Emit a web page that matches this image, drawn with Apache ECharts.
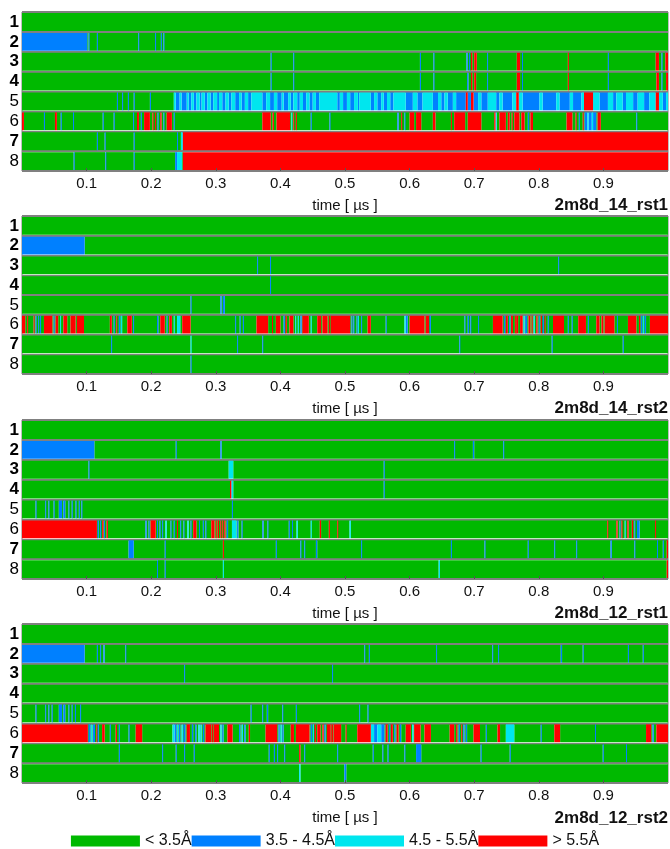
<!DOCTYPE html>
<html>
<head>
<meta charset="utf-8">
<script src="https://cdn.jsdelivr.net/npm/echarts@6/dist/echarts.min.js"></script>
<style>
html,body{margin:0;padding:0;background:#fff;}
#chart{width:670px;height:849px;}
</style>
</head>
<body>
<div id="chart"></div>
<script>
// ---------- data ----------
const categories = ['< 3.5Å', '3.5 - 4.5Å', '4.5 - 5.5Å', '> 5.5Å'];
const categoryColors = ['#00B900', '#0080FF', '#00E6EE', '#FF0000'];
const rowLabels = ['1', '2', '3', '4', '5', '6', '7', '8'];
const boldRows = ['1', '2', '3', '4', '7'];
const panelTitles = ['2m8d_14_rst1', '2m8d_14_rst2', '2m8d_12_rst1', '2m8d_12_rst2'];
const timeRange = [0, 1];
const B = 1, C = 2, R = 3; // category codes; everything not listed is '< 3.5Å'

// each run: 8 rows of [start µs, end µs, category]
const run14_rst1 = [
  [],
  [[0,0.101,B],[0.103,0.104,B],[0.116,0.117,B],[0.18,0.181,B],[0.206,0.207,B],[0.215,0.216,B],[0.219,0.22,B]],
  [[0.385,0.386,B],[0.42,0.421,B],[0.616,0.617,B],[0.637,0.638,B],[0.688,0.69,B],[0.692,0.693,B],[0.695,0.697,R],[0.7,0.704,R],[0.72,0.721,B],[0.766,0.771,R],[0.774,0.775,B],[0.845,0.846,R],[0.907,0.908,B],[0.981,0.986,R],[0.99,0.991,B],[0.996,1,R]],
  [[0.385,0.386,B],[0.42,0.421,B],[0.616,0.617,B],[0.637,0.638,B],[0.689,0.691,B],[0.695,0.697,R],[0.7,0.703,R],[0.72,0.721,B],[0.766,0.771,R],[0.774,0.775,B],[0.845,0.846,R],[0.907,0.908,B],[0.982,0.986,R],[0.99,0.991,B],[0.997,1,R]],
  [[0.147,0.148,B],[0.155,0.156,B],[0.164,0.165,B],[0.173,0.174,B],[0.198,0.199,B],
   [0.235,0.238,C],[0.238,0.244,B],[0.244,0.247,C],[0.247,0.255,B],[0.255,0.258,C],[0.258,0.262,B],[0.262,0.266,C],[0.266,0.27,B],[0.27,0.275,C],[0.275,0.278,B],[0.278,0.283,C],[0.283,0.287,B],[0.287,0.292,C],[0.292,0.296,B],[0.296,0.302,C],[0.302,0.305,B],[0.305,0.31,C],[0.31,0.315,B],[0.315,0.32,C],[0.32,0.324,B],[0.324,0.33,C],[0.33,0.336,B],[0.336,0.34,C],[0.34,0.345,B],[0.345,0.35,C],[0.35,0.355,B],[0.355,0.372,C],[0.372,0.378,B],[0.378,0.384,C],[0.384,0.39,B],[0.39,0.395,C],[0.395,0.402,B],[0.402,0.405,C],[0.405,0.412,B],[0.412,0.416,C],[0.416,0.42,B],[0.42,0.426,C],[0.426,0.43,B],[0.43,0.435,C],[0.435,0.44,B],[0.44,0.445,C],[0.445,0.45,B],[0.45,0.455,C],[0.455,0.46,B],[0.46,0.488,C],[0.488,0.492,B],[0.492,0.497,C],[0.497,0.503,B],[0.503,0.508,C],[0.508,0.514,B],[0.514,0.52,C],[0.52,0.522,B],[0.522,0.54,C],[0.54,0.545,B],[0.545,0.55,C],[0.55,0.556,B],[0.556,0.56,C],[0.56,0.565,B],[0.565,0.57,C],[0.57,0.575,B],[0.575,0.594,C],[0.594,0.605,B],[0.605,0.612,C],[0.612,0.62,B],[0.62,0.636,C],[0.636,0.644,B],[0.644,0.649,C],[0.649,0.654,B],[0.654,0.659,C],[0.659,0.667,B],[0.667,0.672,C],[0.672,0.687,B],[0.687,0.69,R],[0.69,0.695,B],[0.695,0.699,R],[0.699,0.706,B],[0.706,0.711,C],[0.711,0.721,B],[0.721,0.734,C],[0.734,0.739,B],[0.739,0.744,C],[0.744,0.759,B],[0.759,0.765,C],[0.765,0.769,R],[0.769,0.775,C],[0.775,0.801,B],[0.801,0.806,C],[0.806,0.827,B],[0.827,0.832,C],[0.832,0.848,B],[0.848,0.853,C],[0.853,0.866,B],[0.866,0.87,C],[0.87,0.884,R],[0.884,0.894,C],[0.894,0.907,B],[0.907,0.915,C],[0.915,0.92,B],[0.92,0.93,C],[0.93,0.935,B],[0.935,0.946,C],[0.946,0.953,B],[0.953,0.963,C],[0.963,0.971,B],[0.971,0.981,C],[0.981,0.986,R],[0.986,0.992,C],[0.992,0.997,B],[0.997,1,C]],
  [[0,0.003,R],[0.034,0.035,B],[0.051,0.054,R],[0.06,0.061,B],[0.079,0.08,B],[0.125,0.126,B],[0.142,0.143,B],[0.172,0.173,B],[0.178,0.181,R],[0.184,0.185,B],[0.189,0.198,R],[0.202,0.203,R],[0.206,0.207,R],[0.21,0.211,B],[0.214,0.216,R],[0.219,0.22,B],[0.224,0.232,R],[0.235,0.236,B],[0.372,0.385,R],[0.388,0.39,R],[0.394,0.415,R],[0.417,0.418,C],[0.42,0.421,R],[0.424,0.425,R],[0.447,0.448,B],[0.476,0.477,B],[0.581,0.583,B],[0.587,0.588,R],[0.592,0.593,B],[0.6,0.607,R],[0.61,0.618,R],[0.636,0.64,R],[0.664,0.665,R],[0.669,0.686,R],[0.69,0.711,R],[0.731,0.733,R],[0.733,0.735,C],[0.739,0.749,R],[0.752,0.755,R],[0.758,0.759,R],[0.762,0.77,R],[0.773,0.778,R],[0.783,0.785,B],[0.787,0.791,R],[0.843,0.852,R],[0.857,0.858,R],[0.862,0.863,B],[0.868,0.869,R],[0.871,0.875,B],[0.875,0.877,C],[0.877,0.882,B],[0.882,0.884,C],[0.884,0.889,B],[0.891,0.896,R],[0.951,0.952,B]],
  [[0.116,0.117,B],[0.128,0.129,B],[0.173,0.174,B],[0.24,0.241,B],[0.246,0.249,C],[0.249,1,R]],
  [[0.08,0.081,B],[0.129,0.13,B],[0.173,0.174,B],[0.237,0.24,B],[0.24,0.248,C],[0.249,1,R]]
];

const run14_rst2 = [
  [],
  [[0,0.097,B]],
  [[0.364,0.365,B],[0.384,0.385,B],[0.83,0.831,B]],
  [[0.384,0.385,B]],
  [[0.261,0.262,B],[0.307,0.309,B],[0.311,0.314,B]],
  [[0,0.005,R],[0.008,0.009,R],[0.018,0.019,R],[0.021,0.022,B],[0.025,0.026,B],[0.028,0.029,B],[0.034,0.047,R],[0.049,0.05,B],[0.052,0.056,R],[0.059,0.06,C],[0.064,0.07,R],[0.075,0.083,R],[0.085,0.096,R],[0.136,0.139,R],[0.142,0.143,B],[0.146,0.147,R],[0.15,0.152,B],[0.153,0.155,C],[0.163,0.17,R],[0.172,0.173,B],[0.209,0.211,B],[0.214,0.221,R],[0.224,0.225,B],[0.228,0.232,R],[0.235,0.236,C],[0.24,0.245,C],[0.248,0.261,R],[0.33,0.331,B],[0.337,0.338,B],[0.342,0.343,B],[0.363,0.381,R],[0.387,0.388,R],[0.393,0.4,R],[0.405,0.407,B],[0.408,0.41,R],[0.414,0.42,R],[0.423,0.424,C],[0.427,0.428,C],[0.431,0.433,B],[0.434,0.444,R],[0.447,0.448,C],[0.457,0.463,R],[0.465,0.473,R],[0.475,0.477,R],[0.478,0.508,R],[0.51,0.511,B],[0.513,0.514,B],[0.518,0.519,B],[0.52,0.521,C],[0.525,0.526,B],[0.535,0.54,R],[0.563,0.564,B],[0.592,0.594,C],[0.594,0.597,B],[0.6,0.623,R],[0.625,0.63,R],[0.631,0.633,B],[0.685,0.686,B],[0.69,0.692,B],[0.694,0.695,B],[0.706,0.707,B],[0.729,0.744,R],[0.746,0.748,B],[0.749,0.752,R],[0.754,0.756,B],[0.757,0.76,R],[0.763,0.764,R],[0.765,0.768,R],[0.771,0.775,R],[0.776,0.778,C],[0.779,0.782,B],[0.784,0.787,R],[0.789,0.79,R],[0.792,0.794,C],[0.796,0.798,R],[0.8,0.801,B],[0.803,0.805,R],[0.806,0.808,B],[0.809,0.81,R],[0.814,0.815,B],[0.822,0.839,R],[0.845,0.846,B],[0.851,0.852,B],[0.861,0.873,R],[0.876,0.877,B],[0.889,0.894,R],[0.897,0.9,R],[0.902,0.917,R],[0.921,0.922,B],[0.938,0.951,R],[0.955,0.957,R],[0.958,0.96,B],[0.961,0.963,C],[0.964,0.966,B],[0.972,1,R]],
  [[0.138,0.139,B],[0.261,0.262,C],[0.333,0.334,B],[0.372,0.373,B],[0.677,0.678,B],[0.82,0.821,B],[0.93,0.931,B]],
  [[0.261,0.262,B]]
];

const run12_rst1 = [
  [],
  [[0,0.112,B],[0.238,0.239,B],[0.307,0.309,B],[0.669,0.67,B],[0.698,0.7,B],[0.745,0.746,B]],
  [[0.103,0.104,B],[0.32,0.327,C],[0.56,0.561,B]],
  [[0.322,0.324,R],[0.324,0.327,C],[0.56,0.561,B]],
  [[0.021,0.022,B],[0.036,0.037,B],[0.041,0.042,B],[0.049,0.05,B],[0.057,0.062,B],[0.064,0.067,B],[0.072,0.073,B],[0.077,0.078,B],[0.083,0.084,B],[0.088,0.089,B],[0.092,0.093,B],[0.325,0.326,B]],
  [[0,0.116,R],[0.117,0.119,B],[0.121,0.122,B],[0.124,0.126,R],[0.127,0.128,B],[0.131,0.133,R],[0.191,0.193,B],[0.196,0.197,B],[0.199,0.207,R],[0.209,0.21,B],[0.213,0.214,B],[0.217,0.218,B],[0.222,0.224,C],[0.23,0.231,B],[0.235,0.236,B],[0.24,0.241,R],[0.245,0.246,B],[0.25,0.251,B],[0.256,0.258,C],[0.261,0.262,B],[0.265,0.27,R],[0.274,0.275,B],[0.28,0.281,B],[0.284,0.285,B],[0.293,0.298,R],[0.3,0.301,R],[0.303,0.305,R],[0.307,0.308,R],[0.31,0.311,R],[0.313,0.315,R],[0.317,0.319,B],[0.325,0.332,C],[0.333,0.335,B],[0.34,0.341,B],[0.372,0.374,B],[0.38,0.381,B],[0.413,0.414,B],[0.418,0.419,B],[0.425,0.427,C],[0.447,0.448,C],[0.461,0.463,R],[0.475,0.476,R],[0.488,0.489,R],[0.507,0.509,C],[0.906,0.907,R],[0.92,0.922,R],[0.925,0.926,B],[0.928,0.929,R],[0.933,0.934,C],[0.937,0.939,R],[0.944,0.946,R],[0.948,0.949,B],[0.952,0.956,B],[0.98,0.981,R]],
  [[0.165,0.173,B],[0.221,0.222,B],[0.311,0.312,R],[0.393,0.394,B],[0.431,0.432,B],[0.437,0.438,B],[0.455,0.457,B],[0.525,0.526,B],[0.664,0.665,B],[0.716,0.717,B],[0.783,0.784,B],[0.824,0.825,B],[0.858,0.859,B],[0.911,0.913,B],[0.948,0.949,B],[0.983,0.984,B],[0.992,0.993,B],[0.998,1,R]],
  [[0.209,0.21,B],[0.221,0.222,B],[0.311,0.312,C],[0.645,0.647,C],[0.998,1,R]]
];

const run12_rst2 = [
  [],
  [[0,0.097,B],[0.116,0.117,B],[0.121,0.122,B],[0.126,0.128,B],[0.16,0.161,B],[0.53,0.531,B],[0.537,0.538,B],[0.641,0.642,B],[0.728,0.729,B],[0.737,0.738,B],[0.834,0.836,B],[0.868,0.869,B],[0.938,0.939,B],[0.961,0.962,B]],
  [[0.251,0.252,B],[0.48,0.481,B]],
  [],
  [[0.021,0.022,B],[0.036,0.037,B],[0.041,0.042,B],[0.046,0.047,B],[0.057,0.062,B],[0.064,0.067,B],[0.072,0.073,B],[0.077,0.078,B],[0.082,0.083,B],[0.09,0.091,B],[0.354,0.355,B],[0.372,0.373,B],[0.379,0.381,B],[0.403,0.404,B],[0.424,0.425,B],[0.522,0.523,B],[0.535,0.536,B]],
  [[0,0.102,R],[0.103,0.106,B],[0.107,0.109,C],[0.11,0.113,B],[0.115,0.116,R],[0.117,0.119,B],[0.124,0.128,R],[0.136,0.137,B],[0.145,0.147,R],[0.15,0.151,B],[0.165,0.166,B],[0.176,0.186,R],[0.233,0.236,C],[0.236,0.239,B],[0.24,0.242,C],[0.243,0.245,B],[0.247,0.249,C],[0.25,0.253,B],[0.255,0.26,R],[0.263,0.265,B],[0.268,0.27,B],[0.273,0.275,C],[0.276,0.278,C],[0.28,0.282,B],[0.284,0.293,R],[0.294,0.296,R],[0.297,0.305,R],[0.307,0.309,C],[0.31,0.312,B],[0.318,0.326,R],[0.336,0.338,B],[0.34,0.342,C],[0.344,0.346,B],[0.351,0.353,R],[0.377,0.395,R],[0.397,0.399,B],[0.4,0.402,C],[0.403,0.405,B],[0.416,0.421,R],[0.424,0.445,R],[0.447,0.449,B],[0.45,0.452,C],[0.453,0.455,R],[0.457,0.462,R],[0.465,0.467,R],[0.468,0.47,B],[0.472,0.478,R],[0.479,0.482,R],[0.483,0.494,R],[0.501,0.502,R],[0.519,0.54,R],[0.54,0.545,C],[0.545,0.55,B],[0.55,0.556,C],[0.556,0.561,B],[0.563,0.566,R],[0.568,0.57,B],[0.571,0.574,R],[0.576,0.578,B],[0.58,0.583,R],[0.585,0.587,B],[0.594,0.602,R],[0.604,0.606,C],[0.607,0.617,R],[0.623,0.633,R],[0.662,0.669,R],[0.672,0.674,R],[0.676,0.678,B],[0.68,0.681,R],[0.683,0.685,B],[0.687,0.689,B],[0.699,0.709,R],[0.718,0.719,B],[0.736,0.74,R],[0.749,0.762,C],[0.803,0.804,B],[0.824,0.833,R],[0.887,0.888,B],[0.966,0.974,R],[0.976,0.978,B],[0.982,1,R]],
  [[0.15,0.151,B],[0.217,0.218,B],[0.238,0.239,B],[0.251,0.252,B],[0.266,0.267,B],[0.382,0.383,B],[0.39,0.391,B],[0.395,0.396,B],[0.406,0.407,B],[0.429,0.431,R],[0.437,0.438,B],[0.488,0.489,B],[0.543,0.544,B],[0.558,0.559,B],[0.566,0.567,B],[0.592,0.593,B],[0.61,0.618,B],[0.71,0.711,B],[0.755,0.756,B],[0.899,0.9,B],[0.935,0.936,B]],
  [[0.429,0.431,C],[0.499,0.502,B]]
];

const runs = [run14_rst1, run14_rst2, run12_rst1, run12_rst2];

// ---------- chart ----------
const FONT = '"Liberation Sans", Arial, Helvetica, sans-serif';
const gridTops = [12, 216, 420, 624];
const gridHeights = [159, 158, 159, 159];
const titleTops = [197, 400, 605, 810];

function renderSeg(params, api) {
  const r = api.value(2);
  const p0 = api.coord([api.value(0), r]);
  const p1 = api.coord([api.value(1), r]);
  const h = api.size([0, 1])[1];
  let w = p1[0] - p0[0];
  if (w < 1) w = 1;
  return {
    type: 'rect',
    shape: { x: p0[0], y: p0[1] - h / 2 + 1, width: w, height: h - 2 },
    style: { fill: api.visual('color') }
  };
}

const grid = [], xAxis = [], yAxis = [], series = [], title = [];
runs.forEach((rows, p) => {
  grid.push({ left: 22, right: 2, top: gridTops[p], height: gridHeights[p], show: true, borderColor: '#808080', borderWidth: 1 });
  xAxis.push({
    gridIndex: p, type: 'value', min: timeRange[0], max: timeRange[1], interval: 0.1,
    name: 'time [ µs ]', nameLocation: 'middle', nameGap: 27,
    nameTextStyle: { fontFamily: FONT, fontSize: 15, color: '#111' },
    axisLine: { show: false },
    axisTick: { show: true, inside: true, length: 3, lineStyle: { color: '#555' } },
    splitLine: { show: false },
    axisLabel: { showMinLabel: false, showMaxLabel: false, margin: 5, fontFamily: FONT, fontSize: 15, color: '#111',
      formatter: v => v.toFixed(1) },
    z: 10
  });
  yAxis.push({
    gridIndex: p, type: 'category', data: rowLabels, inverse: true,
    axisLine: { show: false }, axisTick: { show: false },
    splitLine: { show: true, interval: 0, lineStyle: { color: '#808080', width: 2 } },
    axisLabel: {
      margin: 3, interval: 0,
      formatter: v => (boldRows.includes(v) ? '{b|' + v + '}' : '{n|' + v + '}'),
      rich: {
        b: { fontFamily: FONT, fontSize: 17, fontWeight: 'bold', color: '#000' },
        n: { fontFamily: FONT, fontSize: 17, color: '#000' }
      }
    }
  });
  title.push({
    text: panelTitles[p], right: 2, top: titleTops[p], padding: 0,
    textStyle: { fontFamily: FONT, fontSize: 17, fontWeight: 'bold', color: '#111' }
  });
  const buckets = [[], [], [], []];
  rows.forEach((events, r) => {
    const evs = events.slice().sort((a, b) => a[0] - b[0]);
    let cursor = timeRange[0];
    evs.forEach(ev => {
      if (ev[0] > cursor) buckets[0].push([cursor, ev[0], r]);
      buckets[ev[2]].push([ev[0], ev[1], r]);
      cursor = Math.max(cursor, ev[1]);
    });
    if (cursor < timeRange[1]) buckets[0].push([cursor, timeRange[1], r]);
  });
  buckets.forEach((data, c) => {
    series.push({
      type: 'custom', name: categories[c], xAxisIndex: p, yAxisIndex: p,
      renderItem: renderSeg, clip: true,
      itemStyle: { color: categoryColors[c] },
      encode: { x: [0, 1], y: 2 },
      data: data, z: 2 + c
    });
  });
});

const chart = echarts.init(document.getElementById('chart'), null, { renderer: 'canvas' });
chart.setOption({
  animation: false,
  backgroundColor: '#fff',
  title: title,
  legend: {
    data: categories, left: 'center', top: 833, icon: 'rect', itemWidth: 69, itemHeight: 11, itemGap: 0,
    padding: 0, selectedMode: false,
    textStyle: { fontFamily: FONT, fontSize: 16, color: '#111' }
  },
  grid: grid, xAxis: xAxis, yAxis: yAxis, series: series
});
</script>
</body>
</html>
